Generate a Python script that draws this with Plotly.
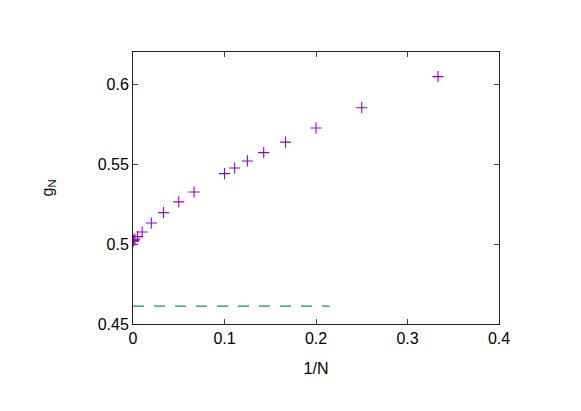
import plotly.graph_objects as go

# data
inv_n = [1/3, 1/4, 1/5, 1/6, 1/7, 1/8, 1/9, 1/10, 1/15, 1/20, 1/30, 1/50, 1/100,
         1/200, 1/500, 1/1000, 1/2000, 1/5000]
g_n = [0.6046, 0.5852, 0.5725, 0.5637, 0.5571, 0.5519, 0.5475, 0.5440, 0.5325,
       0.5263, 0.5196, 0.5131, 0.5075, 0.5046, 0.5030, 0.5024, 0.5021, 0.5019]

ref_x = [0.0, 0.215]
ref_y = [0.4612, 0.4612]

font = "Liberation Sans, Arial, sans-serif"

fig = go.Figure()

fig.add_trace(go.Scatter(
    x=ref_x, y=ref_y, mode="lines",
    line=dict(color="#009e73", width=1.2, dash="11px,10px"),
    showlegend=False,
))

fig.add_trace(go.Scatter(
    x=inv_n, y=g_n, mode="markers",
    marker=dict(symbol="cross-thin", size=8, color="#9400d3",
                line=dict(color="#9400d3", width=1.1)),
    showlegend=False,
))

axis_common = dict(
    showgrid=False, zeroline=False,
    showline=True, linecolor="#222222", linewidth=1, mirror="allticks",
    ticks="inside", ticklen=5, tickcolor="#444444", tickwidth=1,
    tickfont=dict(family=font, size=16, color="black"),
)

fig.update_xaxes(
    range=[0, 0.4], tickvals=[0, 0.1, 0.2, 0.3, 0.4],
    ticktext=["0", "0.1", "0.2", "0.3", "0.4"],
    title=dict(text="1/N", font=dict(family=font, size=16, color="black"), standoff=16),
    **axis_common,
)
fig.update_yaxes(
    range=[0.45, 0.62], tickvals=[0.45, 0.5, 0.55, 0.6],
    ticktext=["0.45", "0.5", "0.55", "0.6"],
    title=dict(text="g<sub>N</sub>", font=dict(family=font, size=16, color="black"), standoff=40),
    **axis_common,
)

fig.update_layout(
    width=573, height=403,
    margin=dict(l=125, r=82, t=44, b=87),
    plot_bgcolor="white", paper_bgcolor="white",
    font=dict(family=font),
)

fig.write_html("out.html")
